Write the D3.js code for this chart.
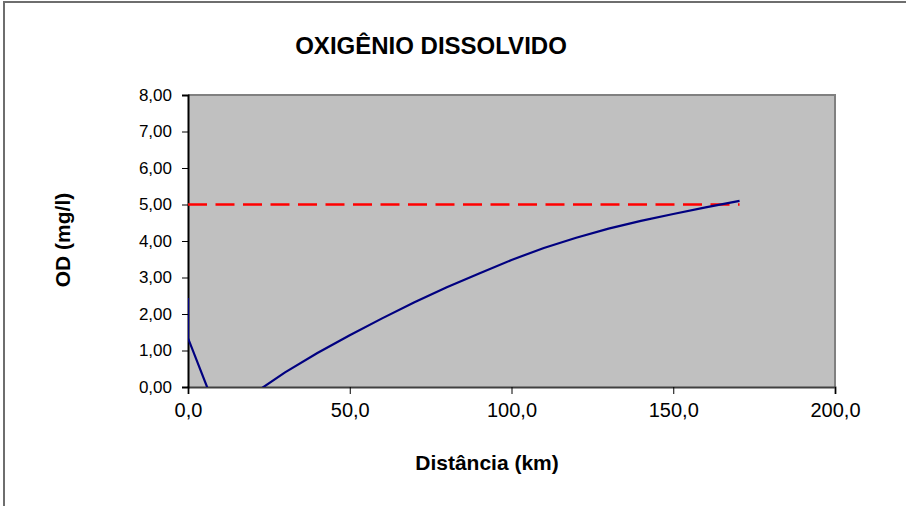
<!DOCTYPE html>
<html>
<head>
<meta charset="utf-8">
<script src="https://cdn.jsdelivr.net/npm/d3@7"></script>
<style>
  body { margin: 0; background: #fff; }
  svg { display: block; font-family: "Liberation Sans", Arial, sans-serif; }
</style>
</head>
<body>
<div id="chart"></div>
<script>
// distance (km) and dissolved oxygen (mg/l)
var distancia = [0, 0, 10, 20, 30, 40, 50, 60, 70, 80, 90, 100, 110, 120, 130, 140, 150, 160, 170.5];
var od = [2.44, 1.34, -0.93, -0.2, 0.4, 0.93, 1.42, 1.88, 2.32, 2.73, 3.11, 3.48, 3.81, 4.09, 4.34, 4.55, 4.74, 4.92, 5.1];

// minimum OD limit
var limiteX = [0, 170.5];
var limiteY = [5, 5];

var xTicks = [0, 50, 100, 150, 200];
var yTicks = [0, 1, 2, 3, 4, 5, 6, 7, 8];

var W = 906, H = 506;
var margin = {top: 95, right: 71, bottom: 119, left: 188},
    width = W - margin.left - margin.right,
    height = H - margin.top - margin.bottom;

var svg = d3.select("#chart")
  .append("svg")
    .attr("width", W)
    .attr("height", H);

// outer chart frame (top and left edges visible)
svg.append("line").attr("x1", 3).attr("x2", 906).attr("y1", 2).attr("y2", 2)
  .attr("stroke", "#6e6e6e").attr("stroke-width", 2);
svg.append("line").attr("x1", 4).attr("x2", 4).attr("y1", 2).attr("y2", 506)
  .attr("stroke", "#6e6e6e").attr("stroke-width", 2);

var g = svg.append("g")
    .attr("transform", `translate(${margin.left},${margin.top})`);

var fmt = function(d, n) { return d.toFixed(n).replace(".", ","); };

var x = d3.scaleLinear().domain([0, 200]).range([0, width]);
var y = d3.scaleLinear().domain([0, 8]).range([height, 0]);

// plot area
g.append("rect")
  .attr("width", width).attr("height", height)
  .attr("fill", "#c0c0c0");
g.append("path")
  .attr("d", `M0,0H${width}V${height}`)
  .attr("fill", "none").attr("stroke", "#808080").attr("stroke-width", 2);

g.append("clipPath").attr("id", "clip")
  .append("rect").attr("width", width).attr("height", height);

// X axis
var xAxis = g.append("g")
  .attr("transform", `translate(0,${height})`)
  .call(d3.axisBottom(x).tickValues(xTicks).tickSize(7).tickPadding(9)
    .tickFormat(function(d) { return fmt(d, 1); }));
xAxis.select(".domain").attr("stroke", "#404040").attr("stroke-width", 2);
xAxis.selectAll(".tick line").attr("stroke", "#000");
xAxis.selectAll("text").attr("font-size", 20).attr("fill", "#000");

// Y axis
var yAxis = g.append("g")
  .call(d3.axisLeft(y).tickValues(yTicks).tickSize(6).tickPadding(10)
    .tickFormat(function(d) { return fmt(d, 2); }));
yAxis.select(".domain").attr("stroke", "#000").attr("stroke-width", 2);
yAxis.selectAll(".tick line").attr("stroke", "#000");
yAxis.selectAll("text").attr("font-size", 17).attr("fill", "#000");

// limit line
var limite = limiteX.map(function(d, i) { return {x: d, y: limiteY[i]}; });
g.append("path")
  .datum(limite)
  .attr("clip-path", "url(#clip)")
  .attr("fill", "none")
  .attr("stroke", "#ff0000")
  .attr("stroke-width", 2.5)
  .attr("stroke-dasharray", "19,8.5")
  .attr("d", d3.line()
    .x(function(d) { return x(d.x); })
    .y(function(d) { return y(d.y); }));

// OD curve
var data = distancia.map(function(d, i) { return {x: d, y: od[i]}; });
g.append("path")
  .datum(data)
  .attr("clip-path", "url(#clip)")
  .attr("fill", "none")
  .attr("stroke", "#000080")
  .attr("stroke-width", 2.2)
  .attr("stroke-linejoin", "round")
  .attr("d", d3.line()
    .x(function(d) { return x(d.x); })
    .y(function(d) { return y(d.y); }));

// titles
svg.append("text")
  .attr("x", 431).attr("y", 54)
  .attr("text-anchor", "middle")
  .attr("font-size", 24).attr("font-weight", "bold")
  .text("OXIGÊNIO DISSOLVIDO");

svg.append("text")
  .attr("x", 487).attr("y", 470)
  .attr("text-anchor", "middle")
  .attr("font-size", 21).attr("font-weight", "bold")
  .text("Distância (km)");

svg.append("text")
  .attr("transform", "translate(70,240) rotate(-90)")
  .attr("text-anchor", "middle")
  .attr("font-size", 21).attr("font-weight", "bold")
  .text("OD (mg/l)");
</script>
</body>
</html>
